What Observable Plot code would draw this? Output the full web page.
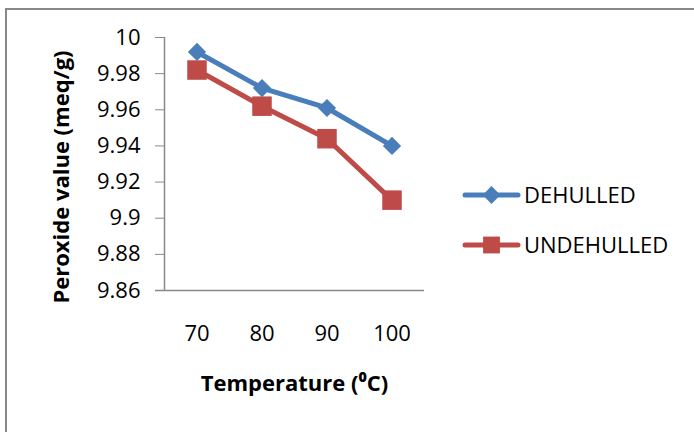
<!DOCTYPE html>
<html>
<head>
<meta charset="utf-8">
<script src="https://cdn.jsdelivr.net/npm/d3@7"></script>
<script src="https://cdn.jsdelivr.net/npm/@observablehq/plot@0.6"></script>
<style>
  html, body { margin: 0; padding: 0; background: #fff; }
  #chart { width: 694px; height: 432px; }
</style>
</head>
<body>
<div id="chart"></div>
<script>
const temperatures = [70, 80, 90, 100];
const dehulled = [9.992, 9.972, 9.961, 9.940];
const undehulled = [9.982, 9.962, 9.944, 9.910];
const yTicks = [9.86, 9.88, 9.9, 9.92, 9.94, 9.96, 9.98, 10];
const seriesNames = ["DEHULLED", "UNDEHULLED"];
const xTitle = "Temperature (⁰C)";
const yTitle = "Peroxide value (meq/g)";

const blue = "#4a7ebb";
const red = "#be4b48";
const grey = "#888888";

const dataD = temperatures.map((t, i) => ({t, v: dehulled[i]}));
const dataU = temperatures.map((t, i) => ({t, v: undehulled[i]}));
const fmt = d => String(+d.toFixed(2));

const chart = Plot.plot({
  width: 694,
  height: 432,
  marginLeft: 164,
  marginRight: 270,
  marginTop: 37,
  marginBottom: 142,
  style: {fontFamily: "'Open Sans', sans-serif", fontSize: "22px", color: "#000", background: "#fff", overflow: "visible"},
  x: {type: "linear", domain: [65, 105], axis: null},
  y: {domain: [9.86, 10], axis: null},
  marks: [
    Plot.ruleX([65], {stroke: grey, strokeWidth: 1.5}),
    Plot.ruleY([9.86], {stroke: grey, strokeWidth: 1.5, insetLeft: -9}),
    Plot.axisY({ticks: yTicks, tickFormat: fmt, tickSize: 9, tickPadding: 15, fontSize: 22, stroke: grey, fill: "#000", label: null}),
    Plot.axisX({ticks: temperatures, tickFormat: d => String(d), tickSize: 0, tickPadding: 35, fontSize: 22, fill: "#000", label: null}),
    Plot.line(dataU, {x: "t", y: "v", stroke: red, strokeWidth: 5}),
    Plot.dot(dataU, {x: "t", y: "v", symbol: "square", r: 11, fill: red, stroke: null}),
    Plot.line(dataD, {x: "t", y: "v", stroke: blue, strokeWidth: 5}),
    Plot.dot(dataD, {x: "t", y: "v", symbol: "diamond2", r: 8.2, fill: blue, stroke: null}),
    Plot.text([xTitle], {frameAnchor: "bottom", dy: 100, fontWeight: "bold", fontSize: 22, fill: "#000"}),
    Plot.text([yTitle], {frameAnchor: "left", textAnchor: "middle", rotate: -90, dx: -103, dy: 13, fontWeight: "bold", fontSize: 22, fill: "#000"})
  ]
});

const svg = d3.select(chart);
// outer chart-area border
svg.append("rect").attr("x", 6).attr("y", 9).attr("width", 720).attr("height", 450)
  .attr("fill", "none").attr("stroke", grey).attr("stroke-width", 2);

// legend
const legend = svg.append("g").attr("font-family", "'Open Sans', sans-serif").attr("font-size", 22).attr("text-anchor", "start");
const legendItems = [
  {name: seriesNames[0], color: blue, sym: d3.symbolDiamond2, size: Math.PI * 8 * 8},
  {name: seriesNames[1], color: red, sym: d3.symbolSquare, size: Math.PI * 9.5 * 9.5}
];
legendItems.forEach((it, i) => {
  const y = 195 + i * 50;
  const g = legend.append("g");
  g.append("line").attr("x1", 465).attr("x2", 518).attr("y1", y).attr("y2", y)
    .attr("stroke", it.color).attr("stroke-width", 5).attr("stroke-linecap", "round");
  g.append("path").attr("d", d3.symbol(it.sym, it.size)()).attr("transform", `translate(491.5,${y})`).attr("fill", it.color);
  g.append("text").attr("x", 524).attr("y", y).attr("dy", "0.35em").attr("text-anchor", "start").attr("fill", "#000").text(it.name);
});

document.getElementById("chart").appendChild(chart);
</script>
</body>
</html>
